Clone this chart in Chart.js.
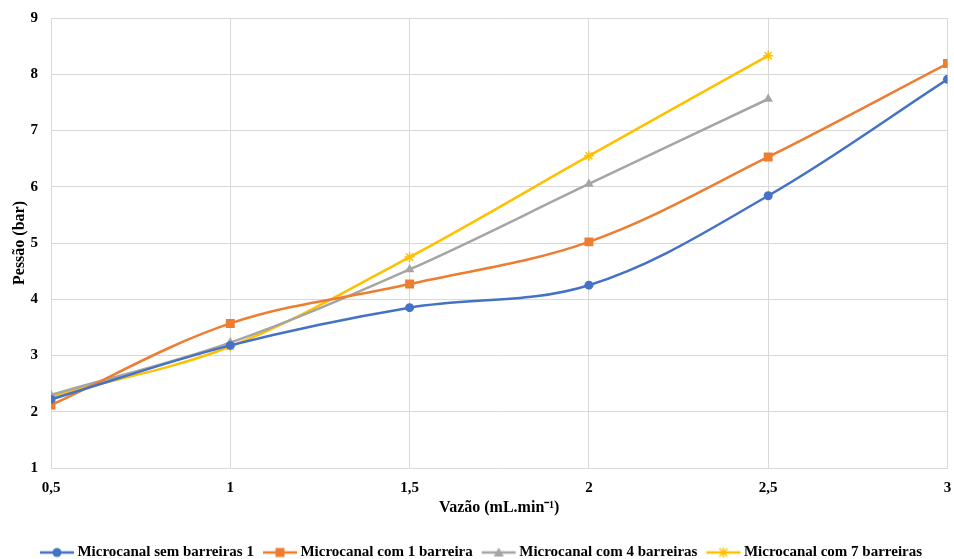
<!DOCTYPE html>
<html>
<head>
<meta charset="utf-8">
<script src="https://cdn.jsdelivr.net/npm/chart.js@4"></script>
<style>
  html, body { margin: 0; padding: 0; background: #fff; overflow: hidden; }
  canvas { display: block; }
</style>
</head>
<body>
<canvas id="diagram" width="954" height="559"></canvas>
<script>
// data
const vazao = [0.5, 1, 1.5, 2, 2.5, 3];
const semBarreiras = [2.22, 3.18, 3.85, 4.25, 5.84, 7.91];
const com1Barreira = [2.12, 3.57, 4.27, 5.02, 6.53, 8.19];
const com4Barreiras = [2.30, 3.23, 4.53, 6.05, 7.56];
const com7Barreiras = [2.27, 3.16, 4.75, 6.55, 8.33];

const seriesNames = [
  "Microcanal sem barreiras 1",
  "Microcanal com 1 barreira",
  "Microcanal com 4 barreiras",
  "Microcanal com 7 barreiras",
];
const xTicks = [0.5, 1, 1.5, 2, 2.5, 3];
const xTickLabels = ["0,5", "1", "1,5", "2", "2,5", "3"];
const yTicks = [1, 2, 3, 4, 5, 6, 7, 8, 9];
const yTickLabels = ["1", "2", "3", "4", "5", "6", "7", "8", "9"];

const colors = ["#4472C4", "#ED7D31", "#A5A5A5", "#FFC000"];
const markers = ["circle", "rect", "triangle", "star"];
const radii = [4.5, 6.3, 5.5, 5];

const toPoints = (vals) => vals.map((v, i) => ({ x: vazao[i], y: v }));

// legend icon: short line with the marker in the middle
const makeIcon = function (color, marker) {
  const c = document.createElement("canvas");
  c.width = 40;
  c.height = 14;
  const g = c.getContext("2d");
  g.strokeStyle = color;
  g.fillStyle = color;
  g.lineWidth = 2.5;
  g.beginPath();
  g.moveTo(3, 7);
  g.lineTo(37, 7);
  g.stroke();
  g.beginPath();
  if (marker == "circle") {
    g.arc(20, 7, 4.5, 0, Math.PI * 2);
    g.fill();
  } else if (marker == "rect") {
    g.fillRect(15.5, 2.5, 9, 9);
  } else if (marker == "triangle") {
    g.moveTo(20, 2);
    g.lineTo(25, 11);
    g.lineTo(15, 11);
    g.closePath();
    g.fill();
  } else {
    g.lineWidth = 1.5;
    g.moveTo(16, 3);
    g.lineTo(24, 11);
    g.moveTo(24, 3);
    g.lineTo(16, 11);
    g.moveTo(20, 2);
    g.lineTo(20, 12);
    g.stroke();
  }
  return c;
};
const icons = colors.map((c, i) => makeIcon(c, markers[i]));

const allSeries = [semBarreiras, com1Barreira, com4Barreiras, com7Barreiras];
const datasets = allSeries.map((vals, i) => ({
  label: seriesNames[i],
  data: toPoints(vals),
  borderColor: colors[i],
  backgroundColor: colors[i],
  borderWidth: 2.5,
  tension: 0.35,
  pointStyle: markers[i],
  pointRadius: radii[i],
  pointHoverRadius: radii[i],
  pointBorderWidth: markers[i] == "star" ? 1.5 : 0,
  pointBackgroundColor: colors[i],
  pointBorderColor: colors[i],
}));

// nudge legend down a little so it sits where the reference has it
const legendShift = {
  id: "legendShift",
  afterLayout(chart) {
    if (chart.legend) {
      chart.legend.top += 11;
      chart.legend.bottom += 11;
      chart.legend.left += 6;
      chart.legend.right += 6;
    }
  },
};

const serif = "'Liberation Serif', 'Times New Roman', serif";

// label gap comes from invisible tick marks (tickLength) instead of ticks.padding,
// since ticks.padding also gets added to the chart area's edge padding
new Chart(document.querySelector("#diagram").getContext("2d"), {
  type: "line",
  data: { datasets },
  plugins: [legendShift],
  options: {
    responsive: false,
    animation: false,
    devicePixelRatio: 1,
    layout: { padding: { top: 18, left: 0, right: 0, bottom: 0 } },
    plugins: {
      tooltip: { enabled: false },
      legend: {
        position: "bottom",
        labels: {
          usePointStyle: true,
          pointStyleWidth: 26,
          padding: 13,
          color: "#000",
          font: { family: serif, size: 15, weight: "bold" },
          generateLabels(chart) {
            return chart.data.datasets.map((ds, i) => ({
              text: ds.label,
              pointStyle: icons[i],
              fillStyle: colors[i],
              strokeStyle: colors[i],
              lineWidth: 0,
              hidden: false,
              datasetIndex: i,
            }));
          },
        },
      },
    },
    scales: {
      x: {
        type: "linear",
        min: 0.5,
        max: 3,
        afterBuildTicks(scale) {
          scale.ticks = xTicks.map((v) => ({ value: v }));
        },
        afterFit(scale) {
          scale.height = 53;
        },
        ticks: {
          color: "#000",
          padding: 0,
          font: { family: serif, size: 15, weight: "bold" },
          callback: (v) => xTickLabels[xTicks.indexOf(v)],
        },
        grid: {
          color: "#d9d9d9",
          lineWidth: 1,
          drawTicks: true,
          tickLength: 11,
          tickColor: "rgba(0,0,0,0)",
        },
        border: { color: "#d9d9d9" },
        title: {
          display: true,
          text: "Vazão (mL.min⁻¹)",
          color: "#000",
          font: { family: serif, size: 16, weight: "bold" },
          padding: { top: 2 },
        },
      },
      y: {
        min: 1,
        max: 9,
        afterBuildTicks(scale) {
          scale.ticks = yTicks.map((v) => ({ value: v }));
        },
        afterFit(scale) {
          scale.width = 51;
        },
        ticks: {
          color: "#000",
          padding: 0,
          font: { family: serif, size: 15, weight: "bold" },
          callback: (v) => yTickLabels[yTicks.indexOf(v)],
        },
        grid: {
          color: "#d9d9d9",
          lineWidth: 1,
          drawTicks: true,
          tickLength: 13,
          tickColor: "rgba(0,0,0,0)",
        },
        border: { color: "#d9d9d9" },
        title: {
          display: true,
          text: "Pessão (bar)",
          color: "#000",
          font: { family: serif, size: 16, weight: "bold" },
          padding: { top: 10, bottom: 0 },
        },
      },
    },
  },
});
</script>
</body>
</html>
